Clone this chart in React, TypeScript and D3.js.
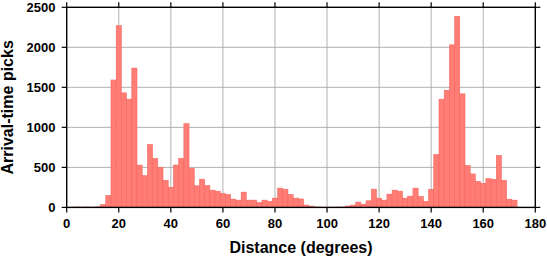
import React from "react";
import * as d3 from "d3";

const binCenters: number[] = d3.range(0, 174, 2);
const counts: number[] = [
  0, 4, 6, 5, 6, 3, 8, 35, 150, 1592,
  2271, 1431, 1352, 1741, 529, 397, 786, 612, 500, 339,
  252, 529, 612, 1046, 490, 270, 353, 274, 216, 203,
  174, 162, 104, 91, 191, 91, 91, 62, 91, 75,
  116, 241, 228, 162, 116, 106, 29, 17, 6, 4,
  3, 3, 5, 5, 17, 29, 66, 41, 83, 228,
  116, 91, 166, 216, 203, 116, 141, 241, 137, 76,
  227, 662, 1352, 1464, 2031, 2386, 1419, 525, 418, 327,
  302, 360, 352, 649, 339, 103, 91,
];
const binWidth = 2;
const xTicks: number[] = [0, 20, 40, 60, 80, 100, 120, 140, 160, 180];
const yTicks: number[] = [0, 500, 1000, 1500, 2000, 2500];
const xLabel = "Distance (degrees)";
const yLabel = "Arrival-time picks";

const W = 547;
const H = 258;
const L = 66.7;
const R = 535.3;
const T = 7.3;
const B = 207.4;
const FONT = "'Liberation Sans', Arial, Helvetica, sans-serif";

export default function App() {
  const x = d3.scaleLinear().domain([0, 180]).range([L, R]);
  const y = d3.scaleLinear().domain([0, 2500]).range([B, T]);
  const tick = 5;
  return (
    <svg
      width={W}
      height={H}
      style={{ position: "absolute", left: 0, top: 0, background: "#fff" }}
    >
      <defs>
        <clipPath id="plot">
          <rect x={L} y={T} width={R - L} height={B - T} />
        </clipPath>
      </defs>
      {/* grid */}
      <g stroke="#9e9e9e" strokeWidth={0.8}>
        {xTicks.slice(1, -1).map((t) => (
          <line key={"gx" + t} x1={x(t)} x2={x(t)} y1={T} y2={B} />
        ))}
        {yTicks.slice(1, -1).map((t) => (
          <line key={"gy" + t} x1={L} x2={R} y1={y(t)} y2={y(t)} />
        ))}
      </g>
      {/* bars */}
      <g clipPath="url(#plot)" fill="#ff7d74" stroke="#f2615a" strokeWidth={0.5}>
        {binCenters.map((c, i) =>
          counts[i] > 0 ? (
            <rect
              key={c}
              x={x(c - binWidth / 2)}
              width={x(c + binWidth / 2) - x(c - binWidth / 2)}
              y={y(counts[i])}
              height={B - y(counts[i])}
            />
          ) : null
        )}
      </g>
      {/* frame */}
      <rect x={L} y={T} width={R - L} height={B - T} fill="none" stroke="#000" strokeWidth={1.4} />
      {/* ticks */}
      <g stroke="#000" strokeWidth={1.2}>
        {xTicks.map((t) => (
          <g key={"tx" + t}>
            <line x1={x(t)} x2={x(t)} y1={B} y2={B + tick} />
            <line x1={x(t)} x2={x(t)} y1={T} y2={T - tick} />
          </g>
        ))}
        {yTicks.map((t) => (
          <g key={"ty" + t}>
            <line x1={L} x2={L - tick} y1={y(t)} y2={y(t)} />
            <line x1={R} x2={R + tick} y1={y(t)} y2={y(t)} />
          </g>
        ))}
      </g>
      {/* tick labels */}
      <g fontFamily={FONT} fontWeight="bold" fontSize={13} fill="#000">
        {xTicks.map((t) => (
          <text key={"lx" + t} x={x(t)} y={228} textAnchor="middle">
            {t}
          </text>
        ))}
        {yTicks.map((t) => (
          <text key={"ly" + t} x={55.5} y={y(t)} dy="0.35em" textAnchor="end">
            {t}
          </text>
        ))}
      </g>
      {/* axis titles */}
      <text
        x={(L + R) / 2}
        y={252.5}
        textAnchor="middle"
        fontFamily={FONT}
        fontWeight="bold"
        fontSize={16}
      >
        {xLabel}
      </text>
      <text
        transform={`translate(13.3,${(T + B) / 2}) rotate(-90)`}
        textAnchor="middle"
        fontFamily={FONT}
        fontWeight="bold"
        fontSize={16}
      >
        {yLabel}
      </text>
    </svg>
  );
}
